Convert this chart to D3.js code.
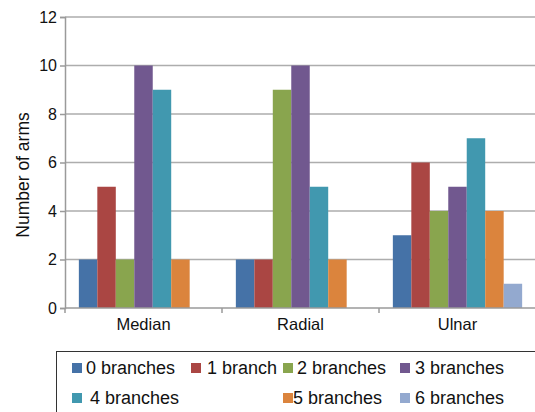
<!DOCTYPE html>
<html>
<head>
<meta charset="utf-8">
<script src="https://cdn.jsdelivr.net/npm/d3@7"></script>
<style>
  body { margin: 0; background: #fff; }
  svg { display: block; font-family: "Liberation Sans", Arial, Helvetica, sans-serif; }
</style>
</head>
<body>
<svg id="chart" width="535" height="412"></svg>
<script>
// Chart data.
var categories = ["Median", "Radial", "Ulnar"];
var seriesNames = ["0 branches", "1 branch", "2 branches", "3 branches", "4 branches", "5 branches", "6 branches"];
var seriesColors = ["#4572A7", "#AA4643", "#89A54E", "#71588F", "#4198AF", "#DB843D", "#93A9CF"];
// values[series][category]
var values = [
    [2, 2, 3],
    [5, 2, 6],
    [2, 9, 4],
    [10, 10, 5],
    [9, 5, 7],
    [2, 2, 4],
    [0, 0, 1]
];
var yTicks = [0, 2, 4, 6, 8, 10, 12];

var svg = d3.select("#chart");

var plot = { left: 65, right: 536, top: 17, bottom: 308 };

// Scales.
var x0 = d3.scaleBand()
    .domain(categories)
    .range([plot.left, plot.right])
    .paddingInner(0)
    .paddingOuter(0);

var x1 = d3.scaleBand()
    .domain(seriesNames)
    .range([0, x0.bandwidth()])
    .paddingInner(0)
    .paddingOuter(0.75);

var y = d3.scaleLinear()
    .domain([0, 12])
    .range([plot.bottom, plot.top]);

// Gridlines.
svg.append("g")
    .selectAll("line")
    .data(yTicks.filter(function (d) { return d > 0; }))
    .enter().append("line")
    .attr("x1", plot.left)
    .attr("x2", plot.right)
    .attr("y1", function (d) { return y(d); })
    .attr("y2", function (d) { return y(d); })
    .attr("stroke", "#adadad")
    .attr("stroke-width", 1.5);

// Bars.
var bars = [];
values.forEach(function (row, si) {
    row.forEach(function (v, ci) {
        if (v > 0) bars.push({ series: si, cat: categories[ci], value: v });
    });
});

svg.append("g")
    .selectAll("rect")
    .data(bars)
    .enter().append("rect")
    .attr("x", function (d) { return x0(d.cat) + x1(seriesNames[d.series]); })
    .attr("width", x1.bandwidth())
    .attr("y", function (d) { return y(d.value); })
    .attr("height", function (d) { return y(0) - y(d.value); })
    .attr("fill", function (d) { return seriesColors[d.series]; });

// Y axis.
var yAxis = svg.append("g")
    .attr("transform", "translate(" + plot.left + ",0)")
    .call(d3.axisLeft(y).tickValues(yTicks).tickSize(5).tickPadding(3));
yAxis.select(".domain").attr("stroke", "#9a9a9a").attr("stroke-width", 1.5);
yAxis.selectAll(".tick line").attr("stroke", "#9a9a9a").attr("stroke-width", 1.5);
yAxis.selectAll(".tick text")
    .attr("font-size", "16px")
    .attr("fill", "#111")
    .attr("font-family", "Liberation Sans, Arial, sans-serif");

// X axis line and boundary ticks.
svg.append("line")
    .attr("x1", plot.left).attr("x2", plot.right)
    .attr("y1", plot.bottom).attr("y2", plot.bottom)
    .attr("stroke", "#9a9a9a").attr("stroke-width", 1.5);

svg.append("g")
    .selectAll("line")
    .data(categories)
    .enter().append("line")
    .attr("x1", function (d) { return x0(d); })
    .attr("x2", function (d) { return x0(d); })
    .attr("y1", plot.bottom)
    .attr("y2", plot.bottom + 5)
    .attr("stroke", "#9a9a9a").attr("stroke-width", 1.5);

svg.append("g")
    .selectAll("text")
    .data(categories)
    .enter().append("text")
    .attr("x", function (d) { return x0(d) + x0.bandwidth() / 2; })
    .attr("y", plot.bottom + 22)
    .attr("text-anchor", "middle")
    .attr("font-size", "16.5px")
    .attr("fill", "#111")
    .text(function (d) { return d; });

// Y axis title.
svg.append("text")
    .attr("transform", "translate(29," + 175 + ") rotate(-90)")
    .attr("text-anchor", "middle")
    .attr("font-size", "17.5px")
    .attr("fill", "#111")
    .text("Number of arms");

// Legend.
svg.append("rect")
    .attr("x", 56.5).attr("y", 351.5)
    .attr("width", 500).attr("height", 80)
    .attr("fill", "none")
    .attr("stroke", "#333")
    .attr("stroke-width", 1);

var legendItems = [
    { sx: 72, tx: 86, row: 0 },
    { sx: 191, tx: 207, row: 0 },
    { sx: 283, tx: 297, row: 0 },
    { sx: 400, tx: 415, row: 0 },
    { sx: 72, tx: 90, row: 1 },
    { sx: 283, tx: 293, row: 1 },
    { sx: 400, tx: 415, row: 1 }
];
var rowY = [368, 398];

var legend = svg.append("g")
    .selectAll("g")
    .data(seriesNames)
    .enter().append("g");

legend.append("rect")
    .attr("x", function (d, i) { return legendItems[i].sx; })
    .attr("y", function (d, i) { return rowY[legendItems[i].row] - 5; })
    .attr("width", 10)
    .attr("height", 10)
    .attr("fill", function (d, i) { return seriesColors[i]; });

legend.append("text")
    .attr("x", function (d, i) { return legendItems[i].tx; })
    .attr("y", function (d, i) { return rowY[legendItems[i].row] + 6; })
    .attr("font-size", "18px")
    .attr("fill", "#111")
    .text(function (d) { return d; });
</script>
</body>
</html>
